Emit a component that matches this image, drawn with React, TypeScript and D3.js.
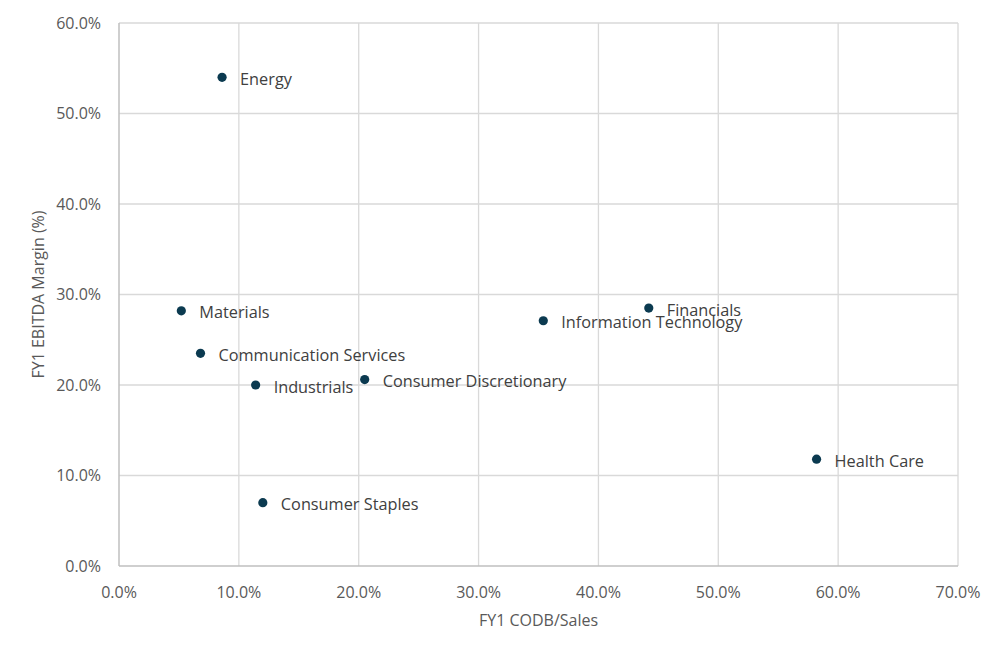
import * as d3 from "d3"

const sectors = [
  "Energy",
  "Materials",
  "Communication Services",
  "Industrials",
  "Consumer Staples",
  "Consumer Discretionary",
  "Information Technology",
  "Financials",
  "Health Care",
]
// FY1 CODB/Sales (%)
const codbSales = [8.6, 5.2, 6.8, 11.4, 12.0, 20.5, 35.4, 44.2, 58.2]
// FY1 EBITDA Margin (%)
const ebitdaMargin = [54.0, 28.2, 23.5, 20.0, 7.0, 20.6, 27.1, 28.5, 11.8]

const xTicks = [0, 10, 20, 30, 40, 50, 60, 70]
const yTicks = [0, 10, 20, 30, 40, 50, 60]

const WIDTH = 1004
const HEIGHT = 656
const LEFT = 119
const RIGHT = 958
const TOP = 23
const BOTTOM = 566

const FONT = "'Open Sans', 'Noto Sans', sans-serif"
const DOT = "#0b3a50"

export default function App() {
  const x = d3.scaleLinear().domain([0, 70]).range([LEFT, RIGHT])
  const y = d3.scaleLinear().domain([0, 60]).range([BOTTOM, TOP])
  const fmt = (v: number) => `${v.toFixed(1)}%`

  return (
    <svg
      width={WIDTH}
      height={HEIGHT}
      style={{ position: "absolute", left: 0, top: 0, background: "#fff" }}
      fontFamily={FONT}
    >
      {/* gridlines */}
      {xTicks.slice(1).map((t) => (
        <line key={`gx${t}`} x1={x(t)} x2={x(t)} y1={TOP} y2={BOTTOM} stroke="#d9d9d9" strokeWidth={1.3} />
      ))}
      {yTicks.slice(1).map((t) => (
        <line key={`gy${t}`} x1={LEFT} x2={RIGHT} y1={y(t)} y2={y(t)} stroke="#d9d9d9" strokeWidth={1.3} />
      ))}

      {/* axes */}
      <line x1={LEFT} x2={LEFT} y1={TOP} y2={BOTTOM} stroke="#bfbfbf" strokeWidth={1.5} />
      <line x1={LEFT} x2={RIGHT} y1={BOTTOM} y2={BOTTOM} stroke="#bfbfbf" strokeWidth={1.5} />

      {/* tick labels */}
      {yTicks.map((t) => (
        <text key={`ty${t}`} x={101} y={y(t)} dy="0.35em" textAnchor="end" fontSize={16} fill="#595959">
          {fmt(t)}
        </text>
      ))}
      {xTicks.map((t) => (
        <text key={`tx${t}`} x={x(t)} y={592} dy="0.35em" textAnchor="middle" fontSize={16} fill="#595959">
          {fmt(t)}
        </text>
      ))}

      {/* axis titles */}
      <text x={(LEFT + RIGHT) / 2} y={620} dy="0.35em" textAnchor="middle" fontSize={16} fill="#595959">
        FY1 CODB/Sales
      </text>
      <text
        transform={`translate(38,${(TOP + BOTTOM) / 2}) rotate(-90)`}
        dy="0.35em"
        textAnchor="middle"
        fontSize={16}
        fill="#595959"
      >
        FY1 EBITDA Margin (%)
      </text>

      {/* points and labels */}
      {sectors.map((s, i) => (
        <g key={s}>
          <circle cx={x(codbSales[i])} cy={y(ebitdaMargin[i])} r={4.6} fill={DOT} />
          <text
            x={x(codbSales[i]) + 18}
            y={y(ebitdaMargin[i]) + 2}
            dy="0.35em"
            fontSize={16.3}
            fill="#404040"
          >
            {s}
          </text>
        </g>
      ))}
    </svg>
  )
}
